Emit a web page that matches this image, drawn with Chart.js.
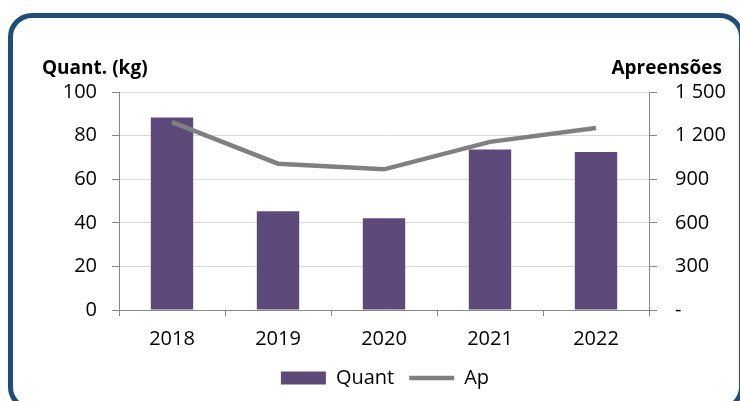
<!DOCTYPE html>
<html>
<head>
<meta charset="utf-8">
<script src="https://cdn.jsdelivr.net/npm/chart.js"></script>
<style>
  html, body { margin: 0; padding: 0; background: #fff; }
  #wrap { position: relative; width: 740px; height: 401px; overflow: hidden; }
  #frame {
    position: absolute; left: 8px; top: 13px; width: 736px; height: 398px;
    box-sizing: border-box; border: 5px solid #1f4e79; border-radius: 24px;
  }
  canvas { position: absolute; left: 0; top: 0; }
</style>
</head>
<body>
<div id="wrap">
  <div id="frame"></div>
  <canvas id="chart" width="740" height="401"></canvas>
</div>
<script>
// valori
const anni = ['2018', '2019', '2020', '2021', '2022'];
const quantKg = [88.3, 45.3, 42.1, 73.6, 72.5];
const apreensoes = [1293, 1007, 968, 1157, 1253];
const tickDestra = ['-', '300', '600', '900', '1 200', '1 500'];

const FONT = "'Open Sans', sans-serif";
const tickFont = { family: FONT, size: 20 };

// titoli sopra gli assi
const titoliAssi = {
  id: 'titoliAssi',
  afterDraw(chart) {
    const ctx = chart.ctx;
    ctx.save();
    ctx.font = "bold 19px " + FONT;
    ctx.fillStyle = '#000';
    ctx.textBaseline = 'middle';
    ctx.textAlign = 'left';
    ctx.fillText('Quant. (kg)', 42, 69);
    ctx.textAlign = 'right';
    ctx.fillText('Apreensões', 722, 69);
    ctx.restore();
  }
};

new Chart(document.getElementById('chart').getContext('2d'), {
  data: {
    labels: anni,
    datasets: [
      {
        type: 'bar', label: 'Quant', data: quantKg, yAxisID: 'y',
        backgroundColor: '#5e4a7a', borderWidth: 0, pointStyle: 'rect',
        barPercentage: 0.4, categoryPercentage: 1, order: 1
      },
      {
        type: 'line', label: 'Ap', data: apreensoes, yAxisID: 'y1',
        borderColor: '#808080', backgroundColor: '#808080', borderWidth: 4.5,
        pointRadius: 0, pointStyle: 'line', tension: 0, order: 0
      }
    ]
  },
  options: {
    responsive: false,
    animation: false,
    layout: { padding: { left: 30, right: 0, top: 92, bottom: 3 } },
    plugins: {
      tooltip: { enabled: false },
      legend: {
        position: 'bottom',
        labels: {
          usePointStyle: true, pointStyleWidth: 45, boxHeight: 13,
          padding: 15, color: '#000', font: tickFont,
          sort: (a, b) => a.datasetIndex - b.datasetIndex
        }
      }
    },
    scales: {
      x: {
        offset: true,
        grid: { offset: true, drawOnChartArea: false, tickLength: 6, tickColor: '#888' },
        border: { color: '#888' },
        ticks: { font: tickFont, color: '#000', padding: 11 },
        afterFit: s => { s.height = 43; }
      },
      y: {
        position: 'left', min: 0, max: 100,
        grid: { color: '#d9d9d9', tickColor: '#888', tickLength: 7 },
        border: { color: '#888' },
        ticks: { stepSize: 20, font: tickFont, color: '#000', padding: 15 },
        afterFit: s => { s.width = 89; }
      },
      y1: {
        position: 'right', min: 0, max: 1500,
        grid: { drawOnChartArea: false, tickColor: '#888', tickLength: 8 },
        border: { color: '#888' },
        ticks: {
          stepSize: 300, font: tickFont, color: '#000', padding: 18,
          callback: (v, i) => tickDestra[i]
        },
        afterFit: s => { s.width = 91; }
      }
    }
  },
  plugins: [titoliAssi]
});
</script>
</body>
</html>
